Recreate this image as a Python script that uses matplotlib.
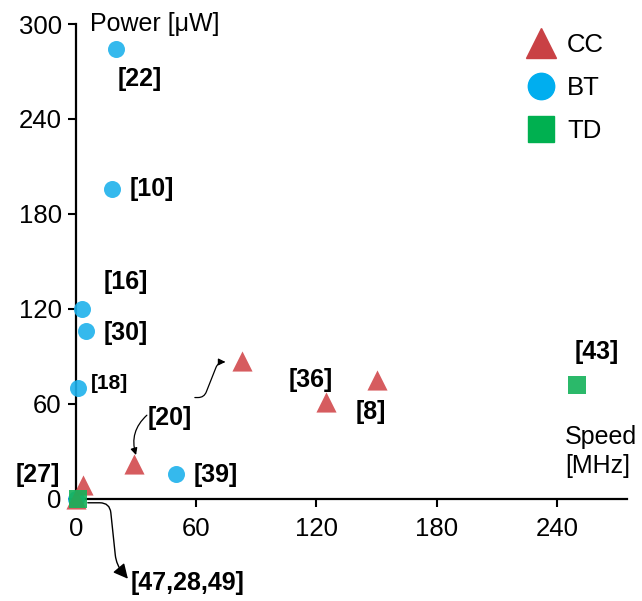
"""Power vs speed scatter for CC / BT / TD designs."""

import matplotlib
matplotlib.use("Agg")
import matplotlib.pyplot as plt
from matplotlib.lines import Line2D

plt.rcParams["font.family"] = ["Liberation Sans", "DejaVu Sans"]

# speed [MHz], power [uW]
CC_SPEED = [0, 3.5, 29, 83, 125, 150]
CC_POWER = [0, 9, 22, 87, 61, 75]
BT_SPEED = [0, 1, 3, 5, 18, 20, 50]
BT_POWER = [0, 70, 120, 106, 196, 284, 16]
TD_SPEED = [1, 250]
TD_POWER = [0, 72]

X_TICKS = [0, 60, 120, 180, 240]
Y_TICKS = [0, 60, 120, 180, 240, 300]

# reference labels: text, position (data coords), font size
LABELS = [
    ("[22]", 32, 265, 18),
    ("[10]", 38, 196, 18),
    ("[16]", 25, 137, 18),
    ("[30]", 25, 105, 18),
    ("[18]", 17, 73, 15),
    ("[20]", 47, 51, 18),
    ("[27]", -19, 15, 18),
    ("[39]", 70, 15, 18),
    ("[36]", 117, 75, 18),
    ("[8]", 147, 55, 18),
    ("[43]", 260, 93, 18),
    ("[47,28,49]", 56, -53, 18),
]

RED = "#d24a4e"
BLUE = "#1fb2ec"
GREEN = "#14b25a"

fig = plt.figure(figsize=(6.42, 6.01), dpi=100)
ax = fig.add_axes([0.118, 0.17, 0.859, 0.79])

ax.scatter(BT_SPEED, BT_POWER, marker="o", s=150, color=BLUE, alpha=0.9,
           linewidths=0, zorder=3, clip_on=False)
ax.scatter(CC_SPEED, CC_POWER, marker="^", s=210, color=RED, alpha=0.9,
           linewidths=0, zorder=4, clip_on=False)
ax.scatter(TD_SPEED, TD_POWER, marker="s", s=170, color=GREEN, alpha=0.9,
           linewidths=0, zorder=5, clip_on=False)

for text, x, y, size in LABELS:
    ax.text(x, y, text, fontsize=size, fontweight="bold", ha="center",
            va="center", zorder=6, clip_on=False)

# curly arrows for [20]
ax.annotate("", xy=(76, 86.5), xytext=(58, 64),
            arrowprops=dict(arrowstyle="-|>", color="black", lw=0.9,
                            mutation_scale=10,
                            connectionstyle="arc,angleA=0,angleB=180,armA=12,armB=10,rad=6"))
ax.annotate("", xy=(30.5, 26), xytext=(36.5, 54),
            arrowprops=dict(arrowstyle="-|>", color="black", lw=0.9,
                            mutation_scale=10,
                            connectionstyle="arc3,rad=0.35"))
# arrow from the origin cluster down to its label
ax.annotate("", xy=(26, -50.5), xytext=(6, -2.5), annotation_clip=False,
            arrowprops=dict(arrowstyle="-|>", color="black", lw=1.0,
                            mutation_scale=22, shrinkA=0, shrinkB=0,
                            connectionstyle="arc,angleA=0,angleB=130,armA=22,armB=18,rad=10"))

ax.text(7, 300, "Power [\u03bcW]", fontsize=18, ha="left", va="center")
ax.text(244, 30, "Speed\n[MHz]", fontsize=18, ha="left", va="center",
        linespacing=1.3)

ax.set_xlim(0, 275)
ax.set_ylim(0, 300)
ax.set_xticks(X_TICKS)
ax.set_yticks(Y_TICKS)
ax.tick_params(labelsize=18.5, width=1.5, length=6, direction="out", pad=4)
ax.tick_params(axis="x", pad=7)
for side in ["top", "right"]:
    ax.spines[side].set_visible(False)
for side in ["left", "bottom"]:
    ax.spines[side].set_linewidth(1.6)

handles = [
    Line2D([], [], marker="^", linestyle="none", color="#c94145", markersize=22),
    Line2D([], [], marker="o", linestyle="none", color="#00aeef", markersize=19),
    Line2D([], [], marker="s", linestyle="none", color="#00b050", markersize=19),
]
ax.legend(handles, ["CC", "BT", "TD"], loc="upper right",
          bbox_to_anchor=(1.0, 1.03), frameon=False, fontsize=18.5,
          handletextpad=0.0, labelspacing=0.75)

fig.savefig("out.png", dpi=100)
